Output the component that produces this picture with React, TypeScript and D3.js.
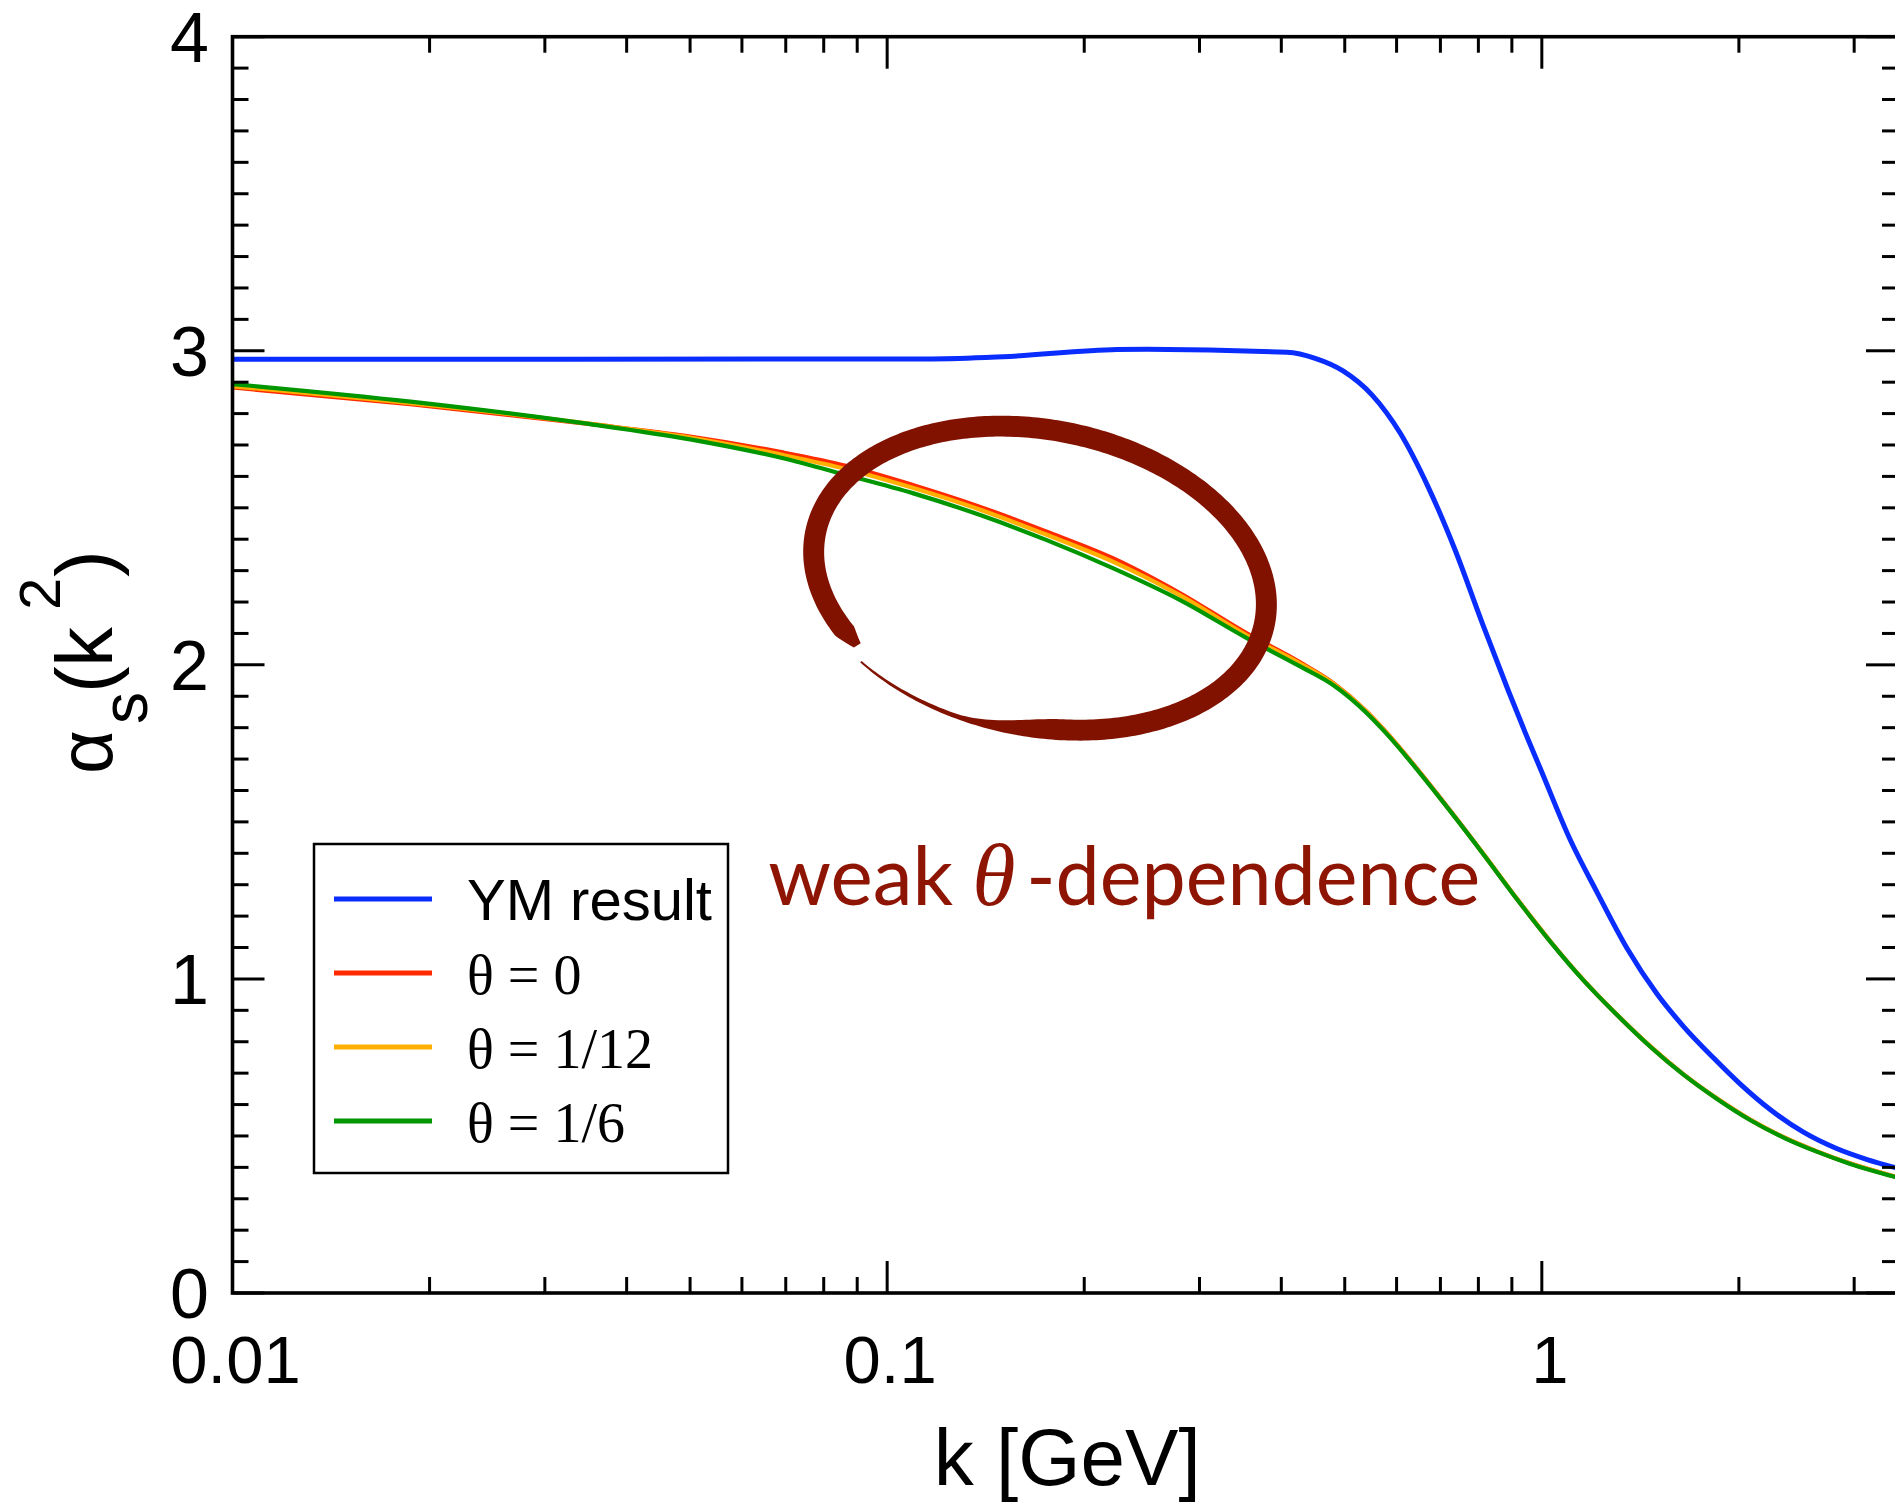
import React, { useEffect, useRef } from 'react';
import * as d3 from 'd3';

// canvas and frame (pixels)
const W = 1895;
const H = 1504;
const frame = { left: 232.5, top: 36.7, right: 1898, bottom: 1293 };

// YM result (blue)
const kYM = [0.01, 0.117, 0.1503, 0.2245, 0.2495, 0.408, 0.4506, 0.497, 0.5506, 0.6076, 0.6706, 0.7374, 0.811, 0.888, 0.943,
    0.9965, 1.105, 1.215, 1.35, 1.5, 1.644, 1.83, 2.01, 2.23, 2.51, 2.82, 3.14, 3.5];
const alphaYM = [2.973, 2.974, 2.981, 3.004, 3.005, 2.995, 2.976, 2.936, 2.859, 2.738, 2.566, 2.365, 2.133, 1.92, 1.785,
    1.666, 1.443, 1.275, 1.097, 0.952, 0.85, 0.748, 0.665, 0.585, 0.512, 0.46, 0.425, 0.397];

// theta curves share one k grid
const kTheta = [0.01, 0.0187, 0.035, 0.05, 0.0686, 0.0868, 0.1097, 0.1387, 0.1753, 0.2216, 0.2803, 0.3543, 0.4274, 0.4805,
    0.5404, 0.5725, 0.724, 0.8135, 0.917, 1.03, 1.156, 1.303, 1.463, 1.644, 1.852, 2.08, 2.34, 2.63, 2.96, 3.5];
const alphaTheta0 = [2.883, 2.83, 2.767, 2.727, 2.678, 2.633, 2.572, 2.503, 2.424, 2.339, 2.228, 2.1, 2.008, 1.942,
    1.851, 1.796, 1.537, 1.399, 1.254, 1.12, 0.998, 0.886, 0.786, 0.697, 0.619, 0.552, 0.496, 0.451, 0.412, 0.368];
const alphaTheta12 = [2.887, 2.833, 2.768, 2.724, 2.67, 2.623, 2.563, 2.494, 2.414, 2.328, 2.221, 2.094, 2.004, 1.94,
    1.85, 1.795, 1.536, 1.399, 1.254, 1.12, 0.998, 0.886, 0.786, 0.697, 0.619, 0.552, 0.496, 0.451, 0.412, 0.368];
const alphaTheta6 = [2.894, 2.838, 2.767, 2.718, 2.66, 2.604, 2.546, 2.477, 2.397, 2.307, 2.206, 2.085, 1.995, 1.935,
    1.846, 1.792, 1.535, 1.398, 1.253, 1.119, 0.997, 0.885, 0.785, 0.696, 0.618, 0.551, 0.495, 0.45, 0.411, 0.367];

const xTickValues = [0.01, 0.1, 1];
const xTickLabels = ['0.01', '0.1', '1'];
const yTickValues = [0, 1, 2, 3, 4];

const seriesNames = ['YM result', 'θ = 0', 'θ = 1/12', 'θ = 1/6'];
const seriesColors = ['#0a2dff', '#ff2a00', '#ffb000', '#009600'];

// annotation anchors, in data units
const noteAt = { k: 0.0658, alpha: 1.235 };
const ringAt = { k: 0.1712, alpha: 2.276 };

const SANS = '"Liberation Sans", Arial, Helvetica, sans-serif';
const SERIF = '"Liberation Serif", "Times New Roman", serif';

function ringPath(cx: number, cy: number) {
    const rx = 229, ry = 148, rot = 0.2;
    const t0 = 2.38, t1 = 2.30 + 2 * Math.PI;
    const full = 21;
    const taperFrom = 7.62, taperTo = 8.12;
    const widthAt = (t: number) => {
        if (t < t0 + 0.1) return 8 + (t - t0) / 0.1 * (full - 8);
        if (t < taperFrom) return full;
        if (t < taperTo) {
            const u = (t - taperFrom) / (taperTo - taperFrom);
            return full - (full - 4.5) * u * u * (3 - 2 * u);
        }
        return 4.5 - (t - taperTo) / (t1 - taperTo) * 2.5;
    };
    const pt = (t: number, d: number): [number, number] => {
        const a = (rx + d) * Math.cos(t);
        const b = (ry + d) * Math.sin(t);
        return [cx + a * Math.cos(rot) - b * Math.sin(rot), cy + a * Math.sin(rot) + b * Math.cos(rot)];
    };
    const n = 360;
    const outer: [number, number][] = [];
    const inner: [number, number][] = [];
    for (let i = 0; i <= n; i++) {
        const t = t0 + (t1 - t0) * i / n;
        const w = widthAt(t);
        // the thin tail hugs the outer edge
        const outerOff = t > taperFrom ? full / 2 : w / 2;
        outer.push(pt(t, outerOff));
        inner.push(pt(t, outerOff - w));
    }
    return d3.line().curve(d3.curveLinearClosed)(outer.concat(inner.reverse()));
}

export default function App() {
    const ref = useRef<SVGSVGElement>(null);

    useEffect(() => {
        const svg = d3.select(ref.current);
        svg.selectAll('*').remove();

        const x = d3.scaleLog().domain([0.01, 3.5]).range([frame.left, frame.right]);
        const y = d3.scaleLinear().domain([0, 4]).range([frame.bottom, frame.top]);

        // curves
        const line = d3.line<[number, number]>()
            .x((d) => x(d[0]))
            .y((d) => y(d[1]))
            .curve(d3.curveMonotoneX);

        const series: [number, number][][] = [
            kYM.map((k, i) => [k, alphaYM[i]]),
            kTheta.map((k, i) => [k, alphaTheta0[i]]),
            kTheta.map((k, i) => [k, alphaTheta12[i]]),
            kTheta.map((k, i) => [k, alphaTheta6[i]]),
        ];

        svg.append('g')
            .selectAll('path')
            .data(series)
            .join('path')
                .attr('d', (d) => line(d))
                .attr('fill', 'none')
                .attr('stroke', (d, i) => seriesColors[i])
                .attr('stroke-width', (d, i) => (i === 0 ? 5 : 4.2))
                .attr('stroke-linejoin', 'round');

        // frame
        const ax = svg.append('g').attr('stroke', '#000');
        ax.append('rect')
            .attr('x', frame.left).attr('y', frame.top)
            .attr('width', frame.right - frame.left).attr('height', frame.bottom - frame.top)
            .attr('fill', 'none').attr('stroke-width', 3.6);

        const xTicks = x.ticks();
        const isMajorX = (v: number) => Math.abs(Math.log10(v) - Math.round(Math.log10(v))) < 1e-6;
        xTicks.forEach((v) => {
            const len = isMajorX(v) ? 32 : 16;
            ax.append('line').attr('x1', x(v)).attr('x2', x(v))
                .attr('y1', frame.bottom).attr('y2', frame.bottom - len).attr('stroke-width', 3);
            ax.append('line').attr('x1', x(v)).attr('x2', x(v))
                .attr('y1', frame.top).attr('y2', frame.top + len).attr('stroke-width', 3);
        });

        d3.range(0, 41).forEach((i) => {
            const v = i / 10;
            const len = i % 10 === 0 ? 32 : 16;
            ax.append('line').attr('x1', frame.left).attr('x2', frame.left + len)
                .attr('y1', y(v)).attr('y2', y(v)).attr('stroke-width', 3);
            ax.append('line').attr('x1', frame.right).attr('x2', frame.right - len)
                .attr('y1', y(v)).attr('y2', y(v)).attr('stroke-width', 3);
        });

        // tick labels
        svg.append('g')
            .selectAll('text')
            .data(xTickValues)
            .join('text')
                .attr('x', (d, i) => x(d) + (xTickLabels[i] === '1' ? 8 : 3))
                .attr('y', 1383)
                .attr('text-anchor', 'middle')
                .style('font-family', SANS)
                .style('font-size', '67px')
                .text((d, i) => xTickLabels[i]);

        svg.append('g')
            .selectAll('text')
            .data(yTickValues)
            .join('text')
                .attr('x', 209)
                .attr('y', (d) => y(d) + 25)
                .attr('text-anchor', 'end')
                .style('font-family', SANS)
                .style('font-size', '70px')
                .text((d) => String(d));

        // axis titles
        svg.append('text')
            .attr('x', (frame.left + frame.right) / 2 + 2)
            .attr('y', 1485)
            .attr('text-anchor', 'middle')
            .style('font-family', SANS)
            .style('font-size', '80px')
            .text('k [GeV]');

        const yt = svg.append('g')
            .attr('transform', 'translate(112, 773) rotate(-90)')
            .style('font-family', SANS);
        const pieces = [
            { s: 'α', x: -1, y: 0, f: 76 },
            { s: 's', x: 49, y: 35, f: 64 },
            { s: '(', x: 80, y: 0, f: 80 },
            { s: 'k', x: 106, y: 0, f: 80 },
            { s: '2', x: 163, y: -52, f: 58 },
            { s: ')', x: 196, y: 0, f: 80 },
        ];
        pieces.forEach((p) => {
            yt.append('text').attr('x', p.x).attr('y', p.y)
                .style('font-size', p.f + 'px').text(p.s);
        });

        // legend
        const lg = svg.append('g');
        lg.append('rect')
            .attr('x', 314).attr('y', 844).attr('width', 414).attr('height', 329)
            .attr('fill', '#fff').attr('stroke', '#000').attr('stroke-width', 2.5);
        seriesNames.forEach((name, i) => {
            const ly = 899 + i * 74;
            lg.append('line')
                .attr('x1', 334).attr('x2', 432).attr('y1', ly).attr('y2', ly)
                .attr('stroke', seriesColors[i]).attr('stroke-width', 4.8);
            lg.append('text')
                .attr('x', 467).attr('y', ly + 21)
                .style('font-family', i === 0 ? SANS : SERIF)
                .style('font-size', i === 0 ? '58px' : '56px')
                .text(name);
        });

        // annotation
        const red = '#8e1504';
        const nx = x(noteAt.k);
        const ny = y(noteAt.alpha);
        svg.append('text')
            .attr('x', nx).attr('y', ny)
            .attr('textLength', 185).attr('lengthAdjust', 'spacingAndGlyphs')
            .style('font-family', 'Lato, "Open Sans", sans-serif')
            .style('font-size', '82px')
            .attr('fill', red)
            .text('weak');
        svg.append('text')
            .attr('x', nx + 204).attr('y', ny)
            .style('font-family', SERIF)
            .style('font-style', 'italic')
            .style('font-size', '88px')
            .attr('fill', red)
            .text('θ');
        svg.append('text')
            .attr('x', nx + 258).attr('y', ny)
            .attr('textLength', 454).attr('lengthAdjust', 'spacingAndGlyphs')
            .style('font-family', 'Lato, "Open Sans", sans-serif')
            .style('font-size', '82px')
            .attr('fill', red)
            .text('-dependence');

        svg.append('path')
            .attr('d', ringPath(x(ringAt.k), y(ringAt.alpha)))
            .attr('fill', '#821200');
    }, []);

    return (
        <svg ref={ref} width={W} height={H} style={{ position: 'absolute', left: 0, top: 0, background: '#fff' }}></svg>
    );
}
